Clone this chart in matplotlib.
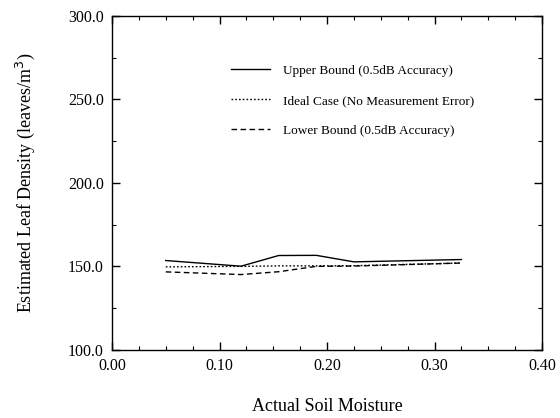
import numpy as np
import matplotlib.pyplot as plt
from matplotlib.ticker import MultipleLocator, FormatStrFormatter

# valores
soil_moisture = [0.05, 0.12, 0.155, 0.19, 0.225, 0.325]
upper_bound = [153.5, 150.1, 156.5, 156.6, 152.7, 154.1]
ideal_case = [149.7, 150.0, 150.3, 150.3, 150.4, 152.0]
lower_bound = [146.7, 145.1, 146.8, 150.0, 150.2, 152.0]

plt.rcParams['font.family'] = ['Liberation Serif', 'DejaVu Serif']

fig = plt.figure(figsize=(5.6, 4.18), dpi=100)
ax = fig.add_axes([0.200, 0.163, 0.768, 0.799])

ax.plot(soil_moisture, upper_bound, color='black', lw=1.0, ls='-',
        label='Upper Bound (0.5dB Accuracy)')
ax.plot(soil_moisture, ideal_case, color='black', lw=1.0, ls=(0, (1.2, 1.5)),
        label='Ideal Case (No Measurement Error)')
ax.plot(soil_moisture, lower_bound, color='black', lw=1.0, ls=(0, (4, 2.5)),
        label='Lower Bound (0.5dB Accuracy)')

ax.set_xlim(0.0, 0.4)
ax.set_ylim(100.0, 300.0)
ax.xaxis.set_major_locator(MultipleLocator(0.1))
ax.xaxis.set_minor_locator(MultipleLocator(0.025))
ax.yaxis.set_major_locator(MultipleLocator(50))
ax.yaxis.set_minor_locator(MultipleLocator(25))
ax.xaxis.set_major_formatter(FormatStrFormatter('%.2f'))
ax.yaxis.set_major_formatter(FormatStrFormatter('%.1f'))
ax.tick_params(which='both', direction='in', top=True, right=True, labelsize=11.5)
ax.tick_params(which='major', length=6, width=1)
ax.tick_params(which='minor', length=3, width=0.8)
ax.tick_params(axis='x', pad=6)
ax.tick_params(axis='y', pad=6)

for s in ax.spines.values():
    s.set_linewidth(1.0)

ax.set_xlabel('Actual Soil Moisture', fontsize=13, labelpad=17)
ax.set_ylabel('Estimated Leaf Density (leaves/m$^3$)', fontsize=13, labelpad=22)

ax.legend(loc='upper left', bbox_to_anchor=(0.25, 0.89), frameon=False,
          fontsize=9.5, handlelength=2.9, labelspacing=1.35, handletextpad=1.0)

fig.savefig('out.png', dpi=100)
